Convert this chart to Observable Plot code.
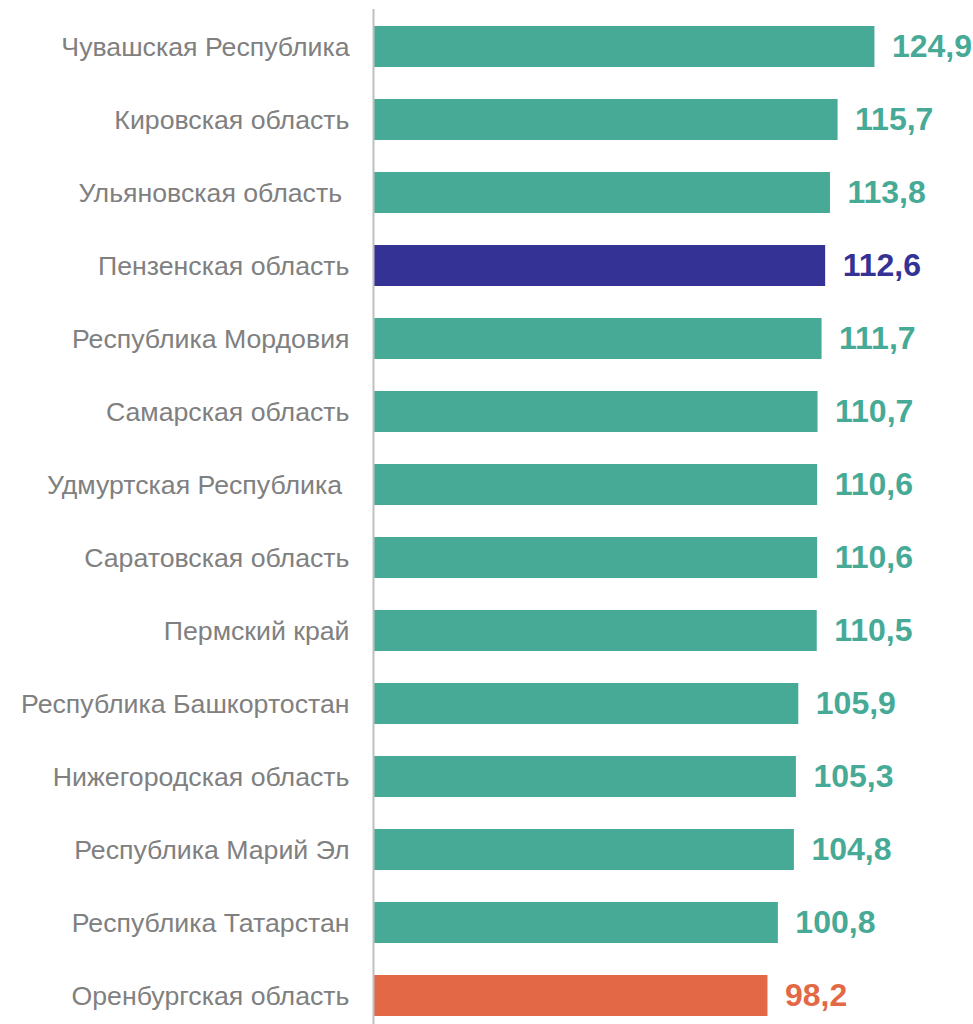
<!DOCTYPE html>
<html>
<head>
<meta charset="utf-8">
<script src="https://cdn.jsdelivr.net/npm/d3@7"></script>
<script src="https://cdn.jsdelivr.net/npm/@observablehq/plot@0.6"></script>
<style>
  html, body { margin: 0; padding: 0; background: #fff; overflow: hidden; }
  #chart { width: 973px; height: 1024px; overflow: hidden; }
</style>
</head>
<body>
<div id="chart"></div>
<script>
const regions = [
  "Чувашская Республика",
  "Кировская область",
  "Ульяновская область\u00a0",
  "Пензенская область",
  "Республика Мордовия",
  "Самарская область",
  "Удмуртская Республика\u00a0",
  "Саратовская область",
  "Пермский край",
  "Республика Башкортостан",
  "Нижегородская область",
  "Республика Марий Эл",
  "Республика Татарстан",
  "Оренбургская область"
];
const values = [124.9, 115.7, 113.8, 112.6, 111.7, 110.7, 110.6, 110.6, 110.5, 105.9, 105.3, 104.8, 100.8, 98.2];
const groups = ["other", "other", "other", "penza", "other", "other", "other", "other", "other", "other", "other", "other", "other", "orenburg"];
const groupNames = ["other", "penza", "orenburg"];
const groupColors = ["#46AA96", "#353295", "#E36846"];

const data = regions.map((r, i) => ({region: r, value: values[i], group: groups[i]}));
const fmt = v => v.toFixed(1).replace(".", ",");

const chart = Plot.plot({
  width: 973,
  height: 1033,
  marginTop: 9,
  marginBottom: 0,
  marginLeft: 374,
  marginRight: 0,
  style: {fontFamily: "'Liberation Sans', Arial, sans-serif", background: "#fff"},
  x: {domain: [0, 149.5], axis: null},
  y: {domain: regions, paddingInner: 0.439, paddingOuter: 0.2195, label: null, tickSize: 0, tickPadding: 25},
  color: {domain: groupNames, range: groupColors},
  marks: [
    Plot.barX(data, {x: "value", y: "region", fill: "group"}),
    Plot.ruleX([0], {stroke: "#BFBFBF", strokeWidth: 2, dx: -1}),
    Plot.text(data, {
      x: "value", y: "region", text: d => fmt(d.value), fill: "group",
      textAnchor: "start", dx: 17, fontSize: 32, fontWeight: "bold"
    }),
    Plot.axisY({tickSize: 0, tickPadding: 25, fontSize: 26.7, color: "#808080", label: null})
  ]
});
document.getElementById("chart").appendChild(chart);
</script>
</body>
</html>
